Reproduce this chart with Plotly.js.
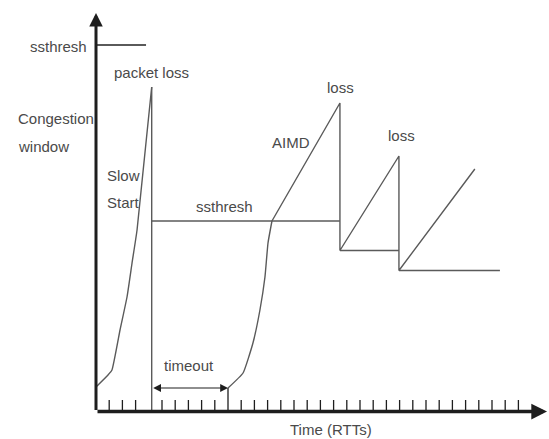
<!DOCTYPE html>
<html>
<head>
<meta charset="utf-8">
<script src="https://cdn.plot.ly/plotly-3.0.1.min.js"></script>
<style>
  html, body { margin: 0; padding: 0; background: #fff; }
  #chart { width: 549px; height: 439px; }
</style>
</head>
<body>
<div id="chart"></div>
<script>
// ---- data (x in RTTs, y = congestion window, arbitrary units) ----
const tickRTT = [1, 2, 3, 5, 6, 7, 8, 9, 11, 12, 13, 14, 15, 16, 17, 18, 19, 20,
                 21, 22, 23, 24, 25, 26, 27, 28, 29, 30, 31, 32];
const tickHeight = 1.15;
const timeoutStart = 4.22;
const timeoutEnd = 10;
const timeoutLevel = 2.35;

const slowStart1X = [0, 0.91, 1.21, 1.82, 2.35, 2.73, 3.11, 4.22];
const slowStart1Y = [2.45, 3.65, 4.15, 8.15, 11.45, 14.85, 18.15, 32.45];
const dropAfterTimeoutX = [4.22, 4.22];
const dropAfterTimeoutY = [32.45, 0];

const slowStart2X = [10, 11.14, 11.89, 12.42, 12.8, 13.03, 13.33];
const slowStart2Y = [2.35, 3.85, 6.85, 10.15, 13.45, 16.85, 19.05];

const aimdX = [13.33, 18.48, 18.48, 22.95, 22.95, 28.7];
const aimdY = [19.05, 30.85, 16.1, 25.55, 14.1, 24.25];

const ssthreshInitX = [0, 3.79];
const ssthreshInitY = [36.65, 36.65];
const ssthreshLevelsX = [4.22, 18.48, null, 18.48, 22.95, null, 22.95, 30.6];
const ssthreshLevelsY = [19.05, 19.05, null, 16.1, 16.1, null, 14.1, 14.1];

const xAxisEnd = 34.17;
const yAxisEnd = 39.85;

// labels
const labelText = ['ssthresh', 'packet loss', 'Congestion', 'window', 'Slow', 'Start',
                   'ssthresh', 'AIMD', 'loss', 'loss', 'timeout', 'Time (RTTs)'];
const labelX = [-0.53, 4.24, -6.06, -6.06, 0.68, 0.68, 9.73, 14.77, 18.52, 23.18, 7.08, 17.84];
const labelY = [36.55, 33.95, 29.35, 26.55, 23.65, 20.95, 20.55, 26.95, 32.45, 27.65, 4.65, -1.75];
const labelAnchor = ['right', 'center', 'left', 'left', 'left', 'left',
                     'center', 'center', 'center', 'center', 'center', 'center'];

// ---- build ----
const lineColor = '#5a5a5a';
const axisColor = '#1e1e1e';
const FONT = '"Liberation Sans", Arial, sans-serif';

const tickX = [], tickY = [];
tickRTT.forEach(t => { tickX.push(t, t, null); tickY.push(0, tickHeight, null); });
tickX.push(timeoutEnd, timeoutEnd); tickY.push(0, timeoutLevel);

const traces = [
  {x: tickX, y: tickY, mode: 'lines', line: {color: axisColor, width: 1.3}, hoverinfo: 'skip'},
  {x: slowStart1X, y: slowStart1Y, mode: 'lines', line: {color: lineColor, width: 1.4, shape: 'spline', smoothing: 0.4}, hoverinfo: 'skip'},
  {x: dropAfterTimeoutX, y: dropAfterTimeoutY, mode: 'lines', line: {color: lineColor, width: 1.4}, hoverinfo: 'skip'},
  {x: slowStart2X, y: slowStart2Y, mode: 'lines', line: {color: lineColor, width: 1.4, shape: 'spline', smoothing: 0.4}, hoverinfo: 'skip'},
  {x: aimdX, y: aimdY, mode: 'lines', line: {color: lineColor, width: 1.4}, hoverinfo: 'skip'},
  {x: ssthreshInitX, y: ssthreshInitY, mode: 'lines', line: {color: lineColor, width: 2}, hoverinfo: 'skip'},
  {x: ssthreshLevelsX, y: ssthreshLevelsY, mode: 'lines', line: {color: lineColor, width: 1.6}, hoverinfo: 'skip'}
];

const annotations = labelText.map((t, i) => ({
  text: t, x: labelX[i], y: labelY[i], xref: 'x', yref: 'y',
  xanchor: labelAnchor[i], yanchor: 'middle', showarrow: false,
  font: {family: FONT, size: 15, color: '#4a4a4a'}
}));

// axes with arrowheads
annotations.push({
  x: xAxisEnd, y: 0, ax: 0, ay: 0, xref: 'x', yref: 'y', axref: 'x', ayref: 'y',
  text: '', showarrow: true, arrowhead: 2, arrowsize: 0.9, arrowwidth: 3.5, arrowcolor: axisColor
});
annotations.push({
  x: 0, y: yAxisEnd, ax: 0, ay: 0, xref: 'x', yref: 'y', axref: 'x', ayref: 'y',
  text: '', showarrow: true, arrowhead: 2, arrowsize: 0.9, arrowwidth: 3, arrowcolor: axisColor
});
// timeout double arrow
annotations.push({
  x: timeoutEnd, y: timeoutLevel, ax: timeoutStart, ay: timeoutLevel,
  xref: 'x', yref: 'y', axref: 'x', ayref: 'y',
  text: '', showarrow: true, arrowside: 'end+start', arrowhead: 2, startarrowhead: 2,
  arrowsize: 1.3, startarrowsize: 1.3, arrowwidth: 1.2, arrowcolor: axisColor
});

const layout = {
  width: 549, height: 439,
  margin: {l: 0, r: 0, t: 0, b: 0, pad: 0},
  paper_bgcolor: '#ffffff', plot_bgcolor: '#ffffff',
  showlegend: false,
  xaxis: {range: [-96 / 13.2, 453 / 13.2], visible: false, fixedrange: true},
  yaxis: {range: [-2.75, 41.15], visible: false, fixedrange: true},
  annotations: annotations
};

Plotly.newPlot('chart', traces, layout, {staticPlot: true, displayModeBar: false});
</script>
</body>
</html>
